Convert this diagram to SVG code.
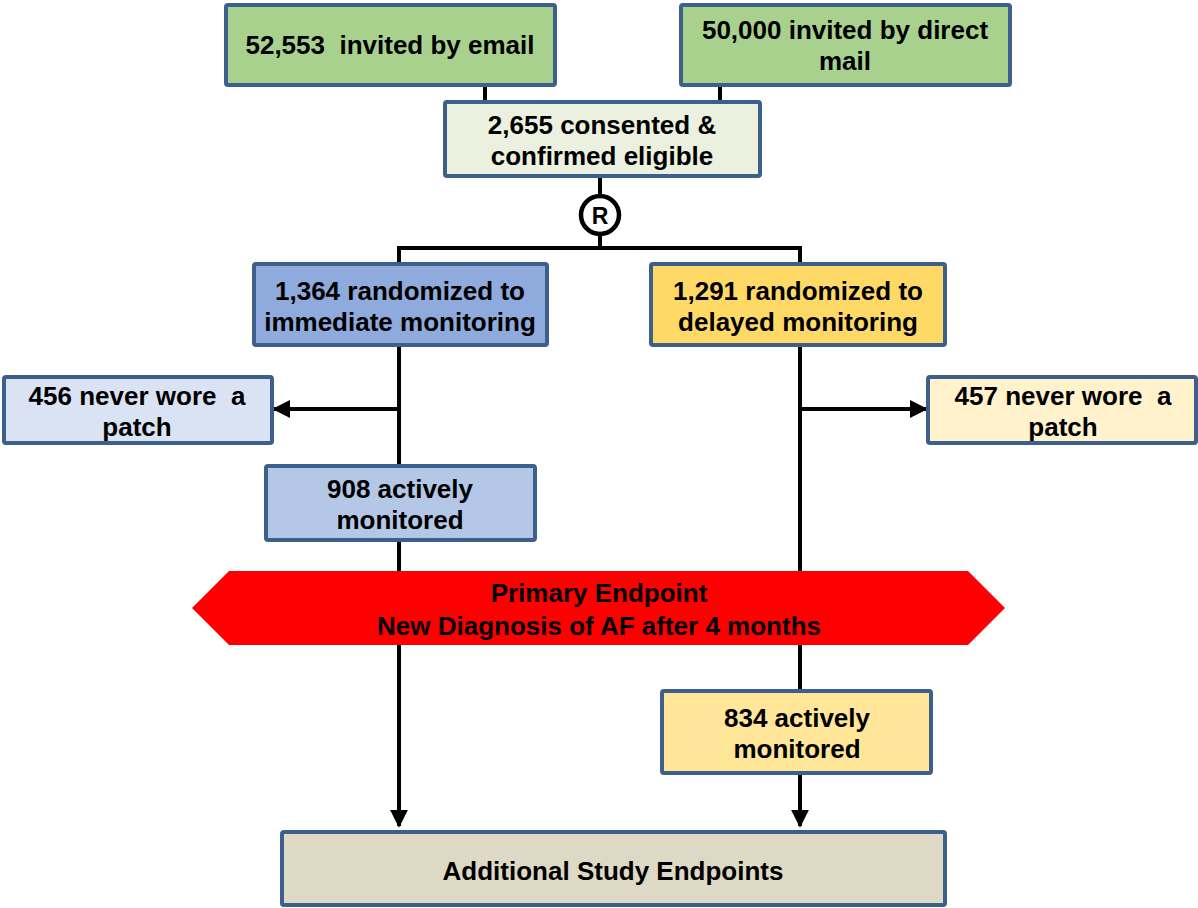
<svg xmlns="http://www.w3.org/2000/svg" width="1198" height="908" viewBox="0 0 1198 908">
<defs>
<style>
.box{stroke:#3C5F8C;stroke-width:4}
.t{font-family:"Liberation Sans",Arial,sans-serif;font-weight:bold;font-size:26px;fill:#000;text-anchor:middle}
.c{stroke:#000;stroke-width:4;fill:none}
</style>
<marker id="ah" viewBox="0 0 10 10" refX="9" refY="5" markerWidth="4.5" markerHeight="4.5" orient="auto" markerUnits="strokeWidth">
<path d="M0,0 L10,5 L0,10 z" fill="#000"/>
</marker>
</defs>
<rect width="1198" height="908" fill="#fff"/>
<g id="connectors">
<line class="c" x1="485" y1="85" x2="485" y2="102"/>
<line class="c" x1="720" y1="85" x2="720" y2="102"/>
<line class="c" x1="600" y1="176" x2="600" y2="196"/>
<line class="c" x1="600" y1="234" x2="600" y2="248"/>
<polyline class="c" points="399,264 399,248 800,248 800,264"/>
<line class="c" x1="399" y1="345" x2="399" y2="466"/>
<line class="c" x1="399" y1="409" x2="274" y2="409" marker-end="url(#ah)"/>
<line class="c" x1="800" y1="345" x2="800" y2="691"/>
<line class="c" x1="800" y1="409" x2="926" y2="409" marker-end="url(#ah)"/>
<line class="c" x1="399" y1="540" x2="399" y2="826" marker-end="url(#ah)"/>
<line class="c" x1="800" y1="773" x2="800" y2="826" marker-end="url(#ah)"/>
</g>
<g id="email"><rect class="box" x="226" y="5" width="329" height="80" rx="2" fill="#A9D18E"/><text class="t" x="390" y="54" xml:space="preserve">52,553  invited by email</text></g>
<g id="mail"><rect class="box" x="681" y="5" width="329" height="80" rx="2" fill="#A9D18E"/><text class="t" x="845" y="39">50,000 invited by direct</text><text class="t" x="845" y="70">mail</text></g>
<g id="consented"><rect class="box" x="445" y="102" width="315" height="74" rx="2" fill="#EBF1DE"/><text class="t" x="602" y="134">2,655 consented &amp;</text><text class="t" x="602" y="165">confirmed eligible</text></g>
<g id="randomize"><circle cx="600" cy="215" r="19" fill="#fff" stroke="#000" stroke-width="4.5"/><text class="t" x="600" y="224" style="font-size:23px">R</text></g>
<g id="immediate"><rect class="box" x="254" y="264" width="293" height="81" rx="2" fill="#8FAADC"/><text class="t" x="400" y="300">1,364 randomized to</text><text class="t" x="400" y="331">immediate monitoring</text></g>
<g id="delayed"><rect class="box" x="651" y="264" width="294" height="81" rx="2" fill="#FFD966"/><text class="t" x="798" y="300">1,291 randomized to</text><text class="t" x="798" y="331">delayed monitoring</text></g>
<g id="never-left"><rect class="box" x="4" y="377" width="268" height="66" rx="2" fill="#DAE3F3"/><text class="t" x="137" y="405" xml:space="preserve">456 never wore  a</text><text class="t" x="137" y="436">patch</text></g>
<g id="never-right"><rect class="box" x="928" y="377" width="268" height="66" rx="2" fill="#FFF2CC"/><text class="t" x="1063" y="405" xml:space="preserve">457 never wore  a</text><text class="t" x="1063" y="436">patch</text></g>
<g id="active-left"><rect class="box" x="266" y="466" width="269" height="74" rx="2" fill="#B4C7E7"/><text class="t" x="400" y="498">908 actively</text><text class="t" x="400" y="529">monitored</text></g>
<g id="primary"><polygon points="192,608 229,571 968,571 1005,608 968,645 229,645" fill="#FF0000"/><text class="t" x="599" y="602">Primary Endpoint</text><text class="t" x="599" y="635">New Diagnosis of AF after 4 months</text></g>
<g id="active-right"><rect class="box" x="662" y="691" width="269" height="82" rx="2" fill="#FFE699"/><text class="t" x="797" y="727">834 actively</text><text class="t" x="797" y="758">monitored</text></g>
<g id="additional"><rect class="box" x="282" y="832" width="663" height="73" rx="2" fill="#DDD9C4"/><text class="t" x="613" y="880">Additional Study Endpoints</text></g>
</svg>
